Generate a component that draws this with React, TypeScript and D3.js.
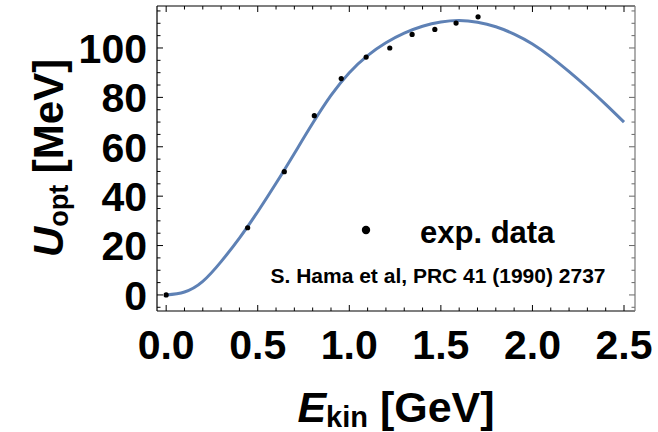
import React from 'react';
import * as d3 from 'd3';

const width = 658;
const height = 432;
const margin = { top: 6, right: 23, bottom: 121, left: 157 };

// fitted optical potential, every 0.1 GeV
const curveE = [0, 0.1, 0.2, 0.3, 0.4, 0.5, 0.6, 0.7, 0.8, 0.9, 1.0, 1.1, 1.2, 1.3, 1.4, 1.5, 1.6, 1.7, 1.8, 1.9, 2.0, 2.1, 2.2, 2.3, 2.4, 2.5];
const curveU = [0, 1.2, 5.5, 13.5, 23, 33.7, 45.2, 57.3, 69.5, 80.8, 90, 96.9, 102.1, 106, 108.8, 110.5, 111.1, 110.4, 108.6, 105.6, 101.6, 96.4, 90.4, 84, 77.2, 70];

// Hama et al. data points
const expE = [0, 0.445, 0.645, 0.809, 0.956, 1.092, 1.221, 1.343, 1.467, 1.583, 1.703];
const expU = [0, 27.2, 49.9, 72.6, 87.6, 96.3, 100, 105.5, 107.5, 110.1, 112.6];

const xMajor = [0, 0.5, 1.0, 1.5, 2.0, 2.5];
const yMajor = [0, 20, 40, 60, 80, 100];

const font = 'Liberation Sans, Arial, sans-serif';

function App() {
  const x = d3.scaleLinear().domain([-0.05, 2.56]).range([margin.left, width - margin.right]);
  const y = d3.scaleLinear().domain([-6.5, 117]).range([height - margin.bottom, margin.top]);

  const x0 = margin.left, x1 = width - margin.right;
  const y0 = height - margin.bottom, y1 = margin.top;

  const xMinor = d3.range(0, 26).map(i => i / 10);
  const yMinor = d3.range(-1, 24).map(i => i * 5);

  const line = d3.line<number>()
    .x((d, i) => x(curveE[i]))
    .y(d => y(d))
    .curve(d3.curveNatural);

  return (
    <svg width={width} height={height} style={{ position: 'absolute', left: 0, top: 0, background: '#fff' }}>
      {/* ticks */}
      <g stroke="#000" strokeWidth={1}>
        {xMinor.map((v, i) => {
          const len = xMajor.some(m => Math.abs(m - v) < 1e-9) ? 6 : 3.5;
          return (
            <g key={'xt' + i}>
              <line x1={x(v)} x2={x(v)} y1={y0} y2={y0 - len} />
              <line x1={x(v)} x2={x(v)} y1={y1} y2={y1 + len} />
            </g>
          );
        })}
        {yMinor.map((v, i) => {
          const len = yMajor.includes(v) ? 6 : 3.5;
          return (
            <g key={'yt' + i}>
              <line x1={x0} x2={x0 + len} y1={y(v)} y2={y(v)} />
              <line x1={x1} x2={x1 - len} y1={y(v)} y2={y(v)} stroke="#666" />
            </g>
          );
        })}
      </g>

      {/* frame */}
      <line x1={x0} x2={x1} y1={y1} y2={y1} stroke="#000" strokeWidth={1.2} />
      <line x1={x0} x2={x1} y1={y0} y2={y0} stroke="#000" strokeWidth={1.2} />
      <line x1={x0} x2={x0} y1={y1} y2={y0} stroke="#000" strokeWidth={1.2} />
      <line x1={x1} x2={x1} y1={y1} y2={y0} stroke="#777" strokeWidth={1.2} />

      {/* curve */}
      <path d={line(curveU) || ''} fill="none" stroke="#5E81B5" strokeWidth={3} />

      {/* data */}
      {expE.map((e, i) => (
        <circle key={'p' + i} cx={x(e)} cy={y(expU[i])} r={2.6} fill="#000" />
      ))}

      {/* tick labels */}
      <g fontFamily={font} fontWeight="bold" fontSize={41} fill="#000">
        {xMajor.map(v => (
          <text key={'xl' + v} x={x(v)} y={359} textAnchor="middle">{v.toFixed(1)}</text>
        ))}
        {yMajor.map(v => (
          <text key={'yl' + v} x={147} y={y(v)} dy="0.36em" textAnchor="end">{v}</text>
        ))}
      </g>

      {/* axis titles */}
      <text x={(x0 + x1) / 2} y={422} textAnchor="middle" fontFamily={font} fontWeight="bold" fontSize={43}>
        <tspan fontStyle="italic">E</tspan>
        <tspan fontSize={29} dy={5}>kin</tspan>
        <tspan dy={-5}> [GeV]</tspan>
      </text>
      <text transform="translate(63,158) rotate(-90)" textAnchor="middle" fontFamily={font} fontWeight="bold" fontSize={42}>
        <tspan fontStyle="italic">U</tspan>
        <tspan fontSize={27} dy={5}>opt</tspan>
        <tspan dy={-5}> [MeV]</tspan>
      </text>

      {/* legend */}
      <circle cx={366} cy={230} r={4.2} fill="#000" />
      <text x={420} y={243} fontFamily={font} fontWeight="bold" fontSize={31}>exp. data</text>
      <text x={438} y={283} textAnchor="middle" fontFamily={font} fontWeight="bold" fontSize={21}>S. Hama et al, PRC 41 (1990) 2737</text>
    </svg>
  );
}

export default App;
